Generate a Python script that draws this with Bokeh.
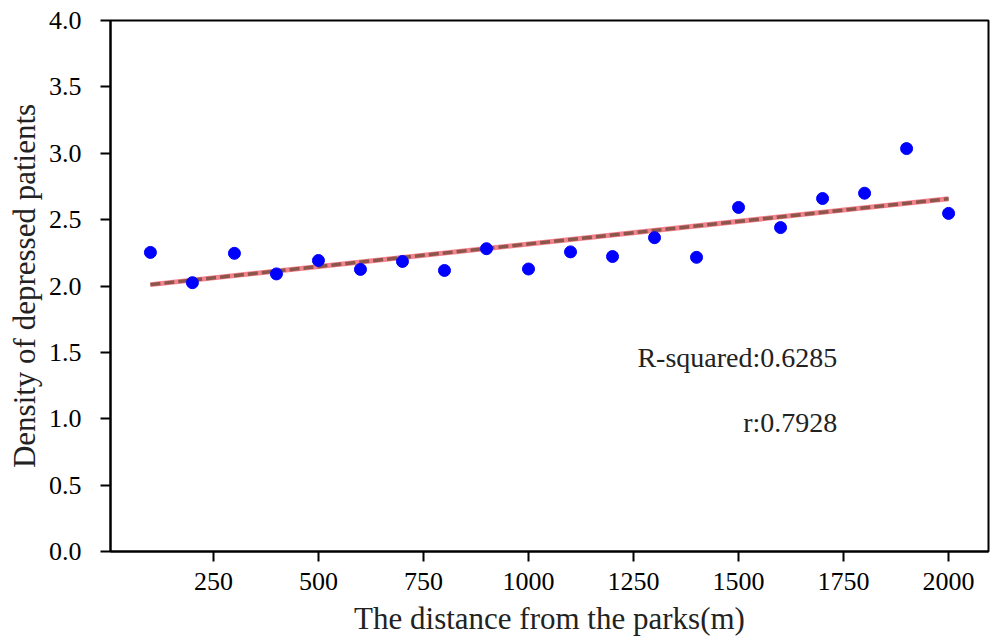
import numpy as np
from bokeh.plotting import figure
from bokeh.models import Range1d, FixedTicker, NumeralTickFormatter
from bokeh.core.properties import value
from bokeh.embed import file_html
from bokeh.resources import INLINE

distance = [100, 200, 300, 400, 500, 600, 700, 800, 900, 1000,
            1100, 1200, 1300, 1400, 1500, 1600, 1700, 1800, 1900, 2000]
density = [2.253, 2.025, 2.246, 2.091, 2.192, 2.125, 2.185, 2.117, 2.281, 2.128,
           2.257, 2.222, 2.364, 2.216, 2.592, 2.440, 2.659, 2.699, 3.035, 2.547]
x_ticks = [250, 500, 750, 1000, 1250, 1500, 1750, 2000]
y_ticks = [0.0, 0.5, 1.0, 1.5, 2.0, 2.5, 3.0, 3.5, 4.0]
r_squared_label = "R-squared:0.6285"
r_label = "r:0.7928"

FONT = "Liberation Serif"

slope, intercept = np.polyfit(distance, density, 1)
fit_x = [distance[0], distance[-1]]
fit_y = [intercept + slope * v for v in fit_x]

p = figure(width=990, height=640, output_backend="svg", toolbar_location=None,
           x_range=Range1d(5, 2095), y_range=Range1d(0, 4),
           min_border_left=110, min_border_right=2, min_border_top=20, min_border_bottom=89)
p.background_fill_color = "white"
p.border_fill_color = "white"
p.outline_line_color = "black"
p.outline_line_width = 2
p.outline_line_alpha = 1
p.xgrid.visible = False
p.ygrid.visible = False

for ax in (p.xaxis[0], p.yaxis[0]):
    ax.axis_line_width = 2
    ax.axis_line_color = "black"
    ax.major_tick_line_width = 2
    ax.major_tick_line_color = "black"
    ax.major_tick_out = 10
    ax.major_tick_in = 0
    ax.minor_tick_line_color = None
    ax.major_label_text_font = FONT
    ax.major_label_text_font_size = "26px"
    ax.major_label_text_color = "black"
    ax.axis_label_text_font = FONT
    ax.axis_label_text_font_size = "31px"
    ax.axis_label_text_font_style = "normal"
    ax.axis_label_text_color = "#222222"

p.xaxis.ticker = FixedTicker(ticks=x_ticks)
p.yaxis.ticker = FixedTicker(ticks=y_ticks)
p.xaxis.formatter = NumeralTickFormatter(format="0")
p.yaxis.formatter = NumeralTickFormatter(format="0.0")
p.xaxis.axis_label = "The distance from the parks(m)"
p.yaxis.axis_label = "Density of depressed patients"
p.xaxis.major_label_standoff = 11
p.yaxis.major_label_standoff = 19
p.xaxis.axis_label_standoff = 8
p.yaxis.axis_label_standoff = 4

p.line(fit_x, fit_y, line_color="#f5828f", line_width=5)
p.line(fit_x, fit_y, line_color="#8c564b", line_width=3.5, line_dash="10 4")
p.scatter(distance, density, size=12, fill_color="#0000ff", line_color="#0000ff")

p.text(x=[1735], y=[1.461], text=[r_squared_label], text_align="right", text_baseline="alphabetic",
       text_font=value(FONT), text_font_size="28px", text_color="#222222")
p.text(x=[1735], y=[0.972], text=[r_label], text_align="right", text_baseline="alphabetic",
       text_font=value(FONT), text_font_size="28px", text_color="#222222")

open("out.html", "w").write(file_html(p, INLINE))
